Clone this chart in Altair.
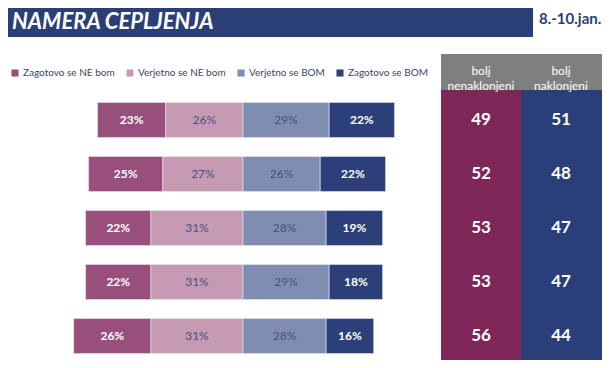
import altair as alt
import pandas as pd

# ---- data ----
categories = ["Zagotovo se NE bom", "Verjetno se NE bom", "Verjetno se BOM", "Zagotovo se BOM"]
colors = ["#984f7c", "#c79ab4", "#7f8db3", "#2c3f78"]
zagotovo_ne = [23, 25, 22, 22, 26]
verjetno_ne = [26, 27, 31, 31, 31]
verjetno_bom = [29, 26, 28, 29, 28]
zagotovo_bom = [22, 22, 19, 18, 16]
bolj_nenaklonjeni = [49, 52, 53, 53, 56]
bolj_naklonjeni = [51, 48, 47, 47, 44]
table_cols = ["bolj\nnenaklonjeni", "bolj\nnaklonjeni"]
title_text = "NAMERA CEPLJENJA"
date_text = "8.-10.jan."

FONT = "Lato"
W, H = 595, 352

# segments for diverging stacked bars
seg_rows = []
for i in range(len(zagotovo_ne)):
    vals = [zagotovo_ne[i], verjetno_ne[i], verjetno_bom[i], zagotovo_bom[i]]
    start = -(vals[0] + vals[1])
    for c, v in zip(categories, vals):
        seg_rows.append({"row": i, "cat": c, "start": start, "end": start + v,
                         "mid": start + v / 2, "label": f"{v}%",
                         "outer": c.startswith("Zagotovo")})
        start += v
seg = pd.DataFrame(seg_rows)

tab_rows = []
for i in range(len(bolj_nenaklonjeni)):
    tab_rows.append({"row": i, "col": table_cols[0], "val": bolj_nenaklonjeni[i]})
    tab_rows.append({"row": i, "col": table_cols[1], "val": bolj_naklonjeni[i]})
tab = pd.DataFrame(tab_rows)

# row centre (chart px) = 112 + 54*row
y_scale = alt.Scale(domain=[-112 / 54, (H - 112) / 54], reverse=True, nice=False, zero=False)
x_scale = alt.Scale(domain=[-235 / 2.97, (W - 235) / 2.97], nice=False, zero=False)

base = alt.Chart(seg)

bars = base.transform_calculate(
    y0="datum.row - 0.325", y1="datum.row + 0.325"
).mark_rect(stroke="#e6e8f0", strokeWidth=0.6).encode(
    x=alt.X("start:Q", scale=x_scale, axis=None),
    x2="end:Q",
    y=alt.Y("y0:Q", scale=y_scale, axis=None),
    y2="y1:Q",
    color=alt.Color("cat:N", scale=alt.Scale(domain=categories, range=colors),
                    legend=alt.Legend(orient="none", legendX=2, legendY=60,
                                      direction="horizontal", title=None,
                                      symbolType="square", symbolSize=50,
                                      symbolStrokeWidth=0,
                                      labelFont=FONT, labelFontSize=10,
                                      labelColor="#3a4468",
                                      columnPadding=10, labelOffset=3)),
)

outer_labels = base.transform_filter("datum.outer").mark_text(
    font=FONT, fontSize=12, fontWeight="bold", color="white"
).encode(
    x=alt.X("mid:Q", scale=x_scale, axis=None),
    y=alt.Y("row:Q", scale=y_scale, axis=None),
    text="label:N",
)
inner_labels = base.transform_filter("!datum.outer").mark_text(
    font=FONT, fontSize=12, color="#4a4f82"
).encode(
    x=alt.X("mid:Q", scale=x_scale, axis=None),
    y=alt.Y("row:Q", scale=y_scale, axis=None),
    text="label:N",
)

# banner
banner = alt.Chart(pd.DataFrame({"t": [title_text]})).mark_rect(color="#2b3f77").encode(
    x=alt.value(0), x2=alt.value(525), y=alt.value(0), y2=alt.value(29)
)
banner_text = alt.Chart(pd.DataFrame({"t": [title_text]})).mark_text(
    font=FONT, fontSize=22, fontWeight="bold", fontStyle="italic", color="white",
    align="left", baseline="middle"
).encode(x=alt.value(4), y=alt.value(14), text="t:N")
date = alt.Chart(pd.DataFrame({"t": [date_text]})).mark_text(
    font=FONT, fontSize=15, fontWeight="bold", color="#2b3f77",
    align="left", baseline="middle"
).encode(x=alt.value(531), y=alt.value(11), text="t:N")

# table backgrounds
hdr = alt.Chart(pd.DataFrame({"t": [0]})).mark_rect(color="#7f7f7f").encode(
    x=alt.value(433), x2=alt.value(594), y=alt.value(46), y2=alt.value(82)
)
col1 = alt.Chart(pd.DataFrame({"t": [0]})).mark_rect(color="#7f2658").encode(
    x=alt.value(433), x2=alt.value(513), y=alt.value(82), y2=alt.value(H)
)
col2 = alt.Chart(pd.DataFrame({"t": [0]})).mark_rect(color="#2a3f7a").encode(
    x=alt.value(513), x2=alt.value(594), y=alt.value(82), y2=alt.value(H)
)
col_scale = alt.Scale(type="point", domain=table_cols, range=[473, 553], padding=0)
hdr_text = alt.Chart(pd.DataFrame({"col": table_cols})).mark_text(
    font=FONT, fontSize=12, color="white", lineBreak="\n", baseline="middle", lineHeight=15
).encode(
    x=alt.X("col:N", scale=col_scale, axis=None),
    y=alt.value(63),
    text="col:N",
)
tab_text = alt.Chart(tab).mark_text(
    font=FONT, fontSize=17, fontWeight="bold", color="white"
).encode(
    x=alt.X("col:N", scale=col_scale, axis=None),
    y=alt.Y("row:Q", scale=y_scale, axis=None),
    text="val:Q",
)

left = alt.layer(banner, banner_text, date, bars, outer_labels, inner_labels)
right = alt.layer(hdr, col1, col2, hdr_text, tab_text)

chart = alt.layer(left, right).resolve_scale(x="independent").properties(
    width=W, height=H, autosize=alt.AutoSizeParams(type="none"), padding=0,
    background="white"
).configure_view(strokeWidth=0)

chart.save("out.html", embed_options={"renderer": "svg", "actions": False})
